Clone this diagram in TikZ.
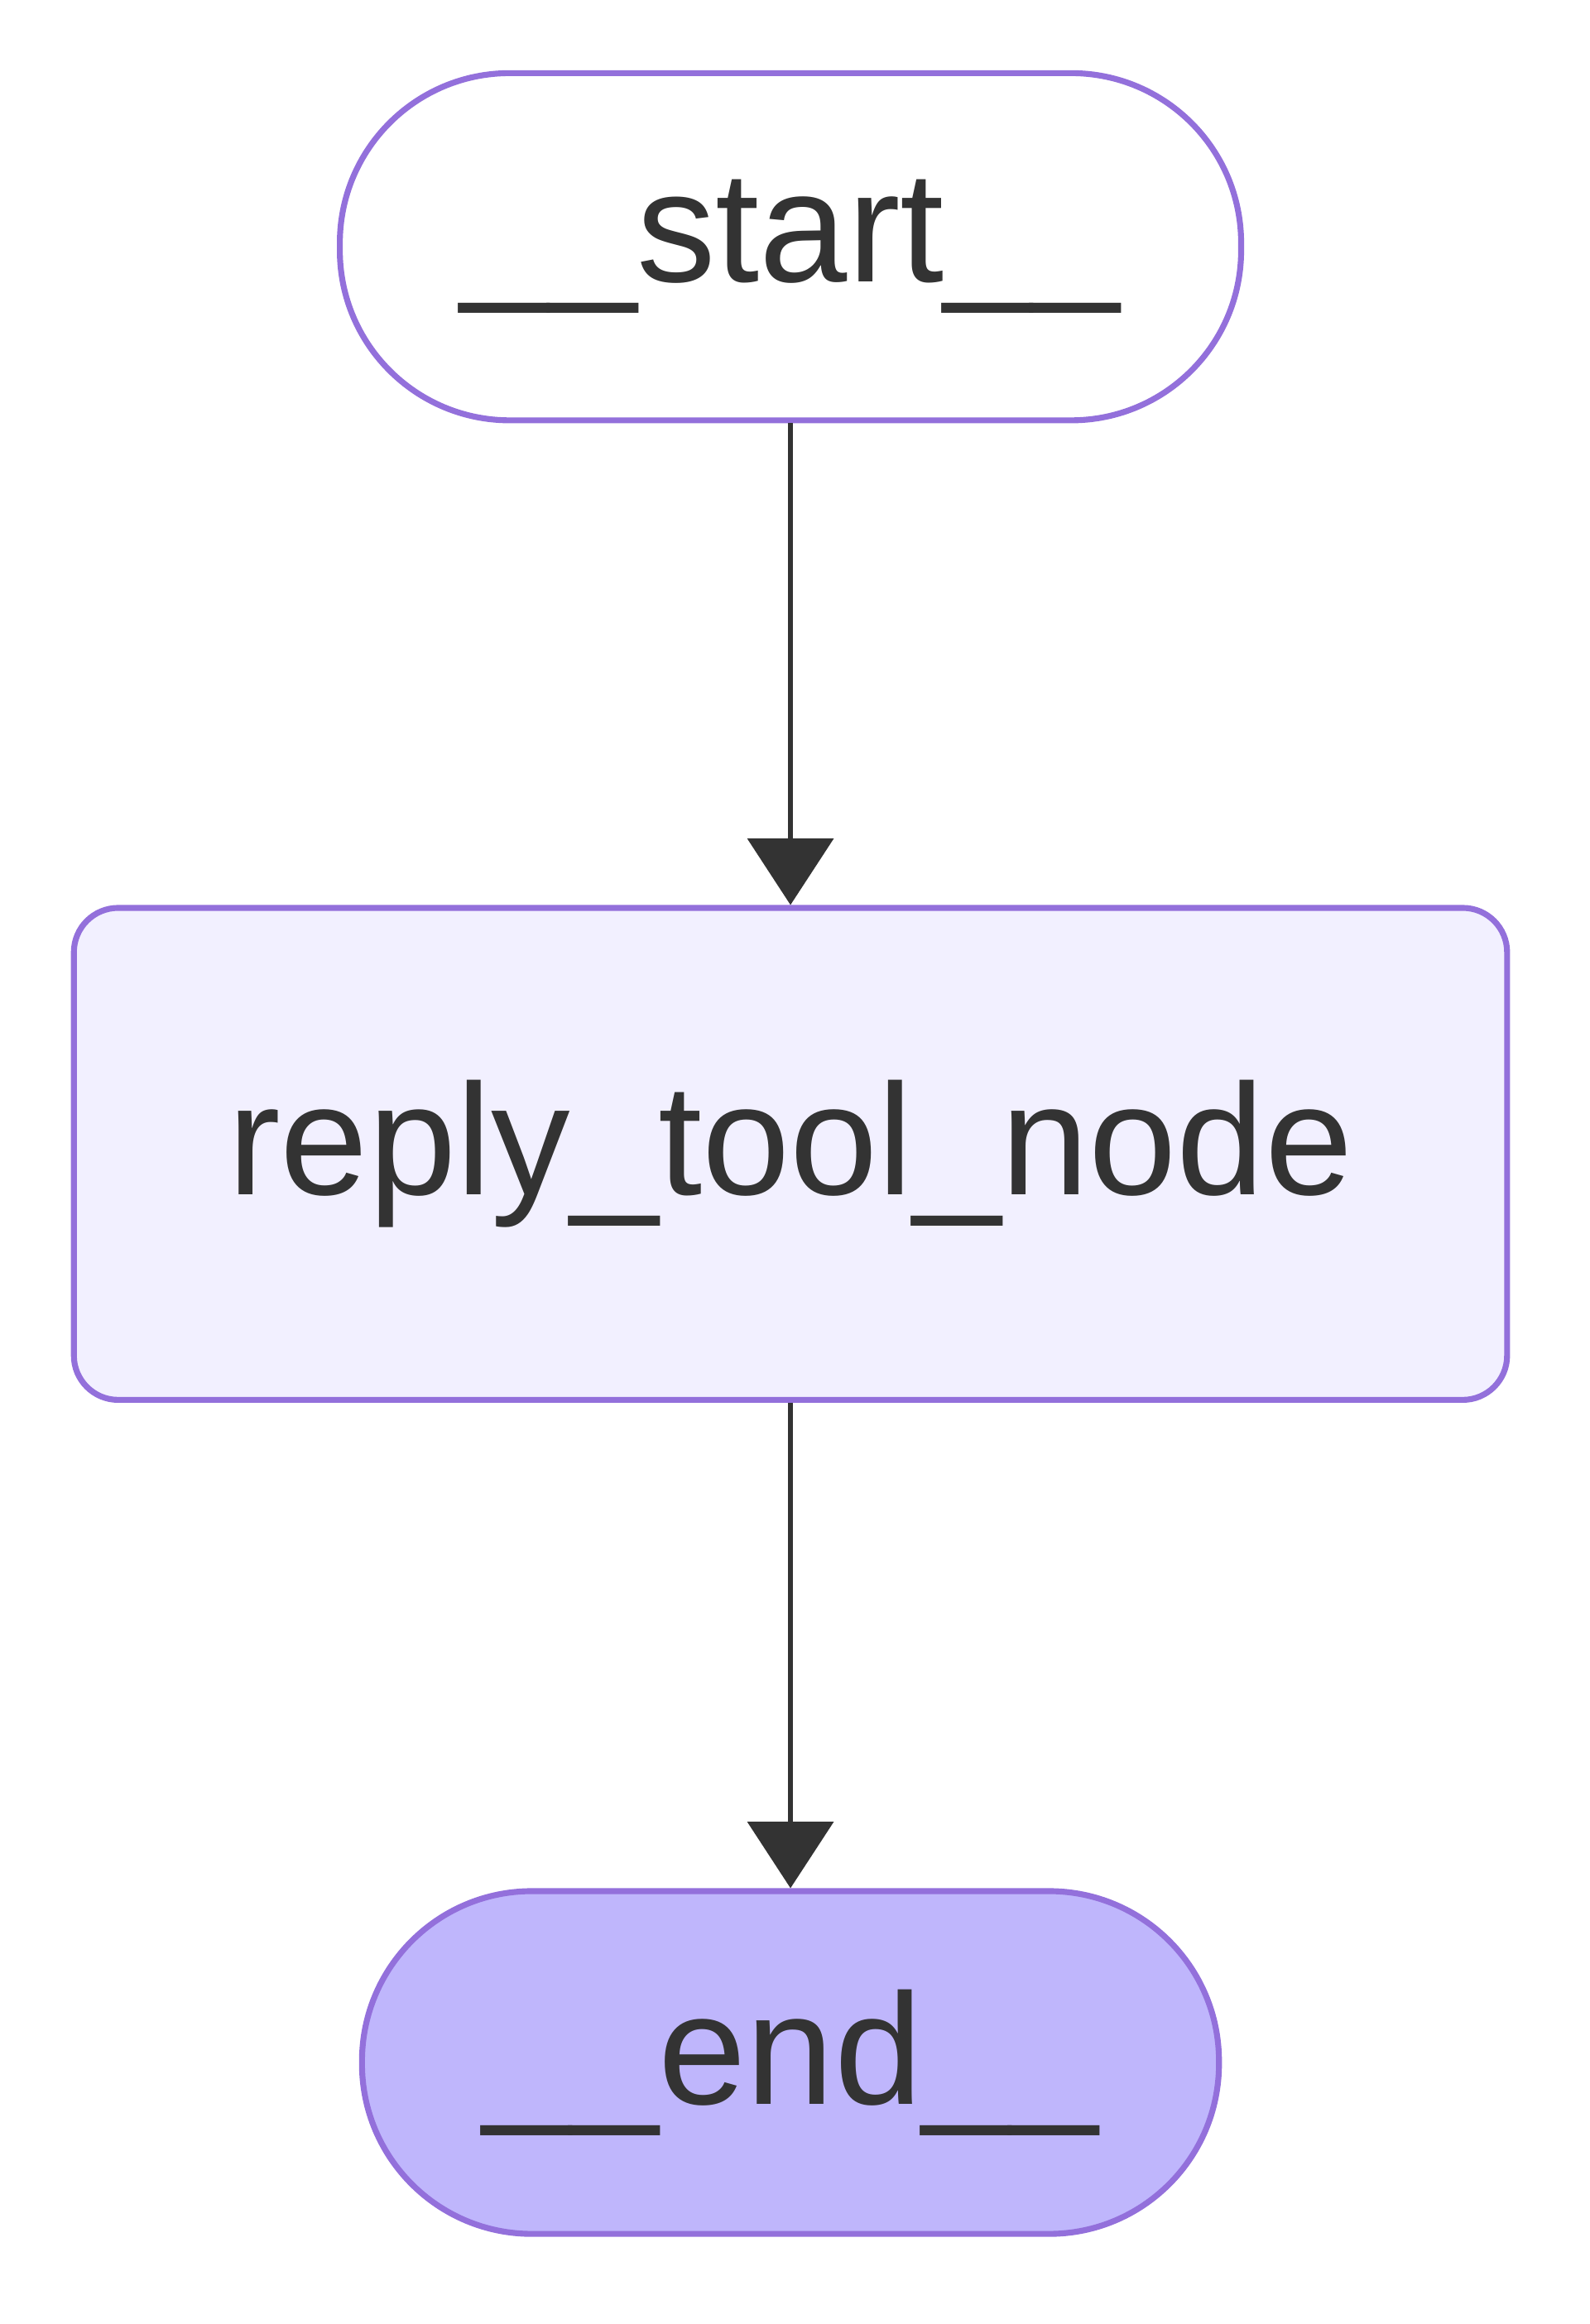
\documentclass[tikz,border=0pt]{standalone}
\usepackage{fontspec}
\setmainfont{Liberation Sans}
\usetikzlibrary{arrows.meta}
\definecolor{nodeline}{HTML}{9370DB}
\definecolor{nodefill}{HTML}{F2F0FF}
\definecolor{endfill}{HTML}{BFB6FC}
\definecolor{ink}{HTML}{333333}
\tikzset{
  box/.style={draw=nodeline, line width=4pt, text=ink, font=\fontsize{107}{128}\selectfont},
  pill/.style={box, rounded corners=115pt},
  flow/.style={draw=ink, line width=3pt, -{Triangle[length=45pt,width=58pt]}}
}
\begin{document}
\begin{tikzpicture}[x=1pt,y=-1pt]
  \useasboundingbox (0,0) rectangle (1076,1573);
  \node[pill, fill=white, minimum width=610pt, minimum height=235pt] (start) at (535,167) {\_\_start\_\_};
  \node[box, fill=nodefill, rounded corners=30pt, minimum width=970pt, minimum height=333pt] (reply) at (535,781) {reply\_tool\_node};
  \node[pill, fill=endfill, minimum width=580pt, minimum height=232pt] (end) at (535,1396) {\_\_end\_\_};
  \draw[flow] (start.south) -- (reply.north);
  \draw[flow] (reply.south) -- (end.north);
\end{tikzpicture}
\end{document}
